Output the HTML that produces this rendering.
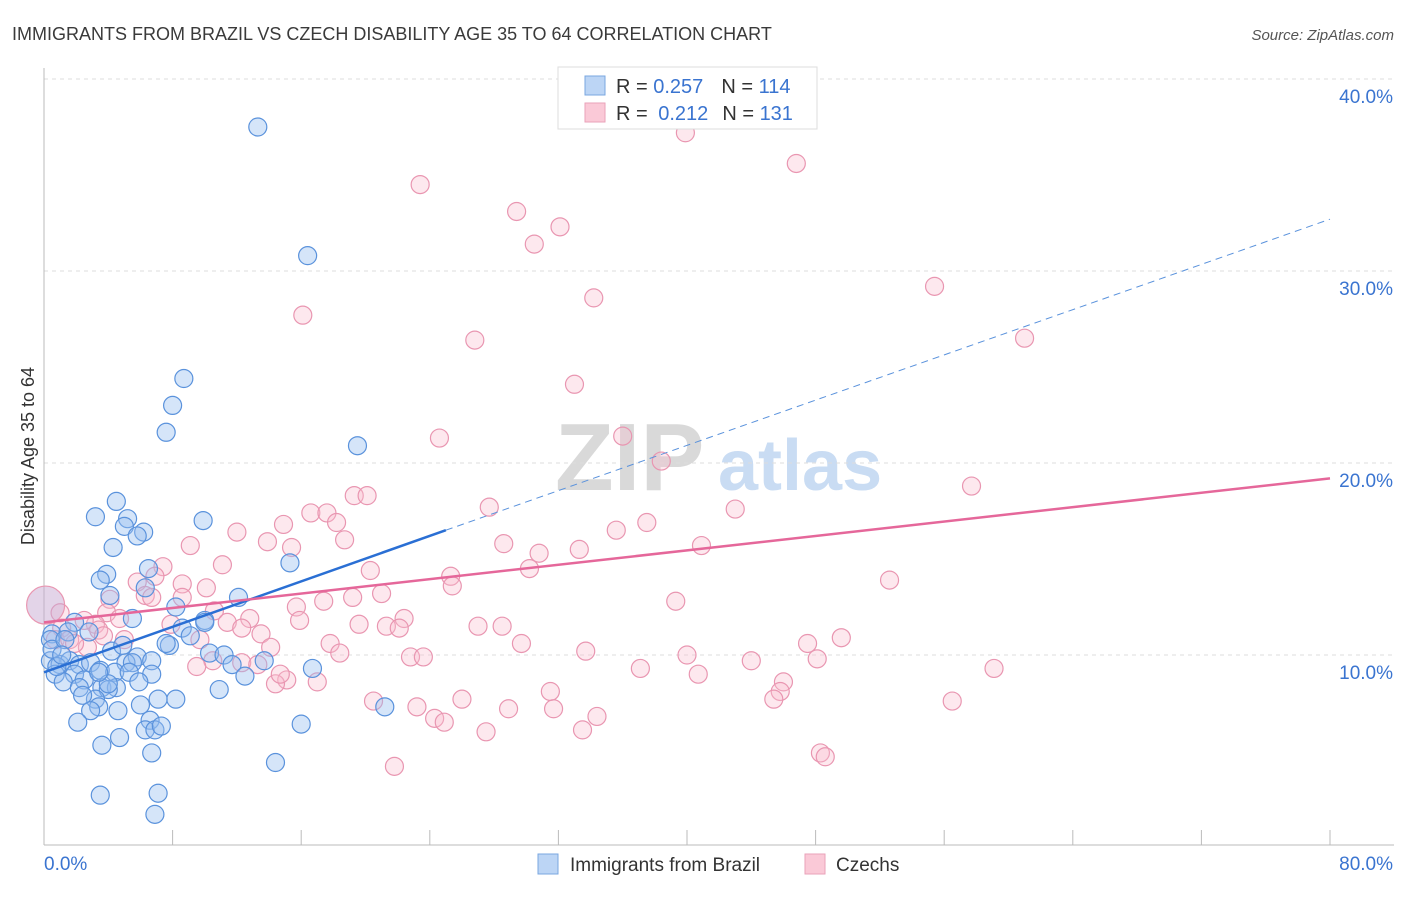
<!DOCTYPE html>
<html><head><meta charset="utf-8"><style>
body{margin:0;background:#fff;font-family:"Liberation Sans",sans-serif}
svg text{font-family:"Liberation Sans",sans-serif}
</style></head><body>
<svg id="c" width="1406" height="892" xmlns="http://www.w3.org/2000/svg">
<text x="12" y="40" font-size="18" fill="#3a3a3a">IMMIGRANTS FROM BRAZIL VS CZECH DISABILITY AGE 35 TO 64 CORRELATION CHART</text>
<text x="1394" y="40" font-size="15" fill="#555" font-style="italic" text-anchor="end">Source: ZipAtlas.com</text>
<g>
<text x="555" y="490" font-size="96" fill="#d9d9d9" font-family="Liberation Serif" font-weight="bold">ZIP</text>
<text x="718" y="490" font-size="72" fill="#c9dcf3" font-weight="bold">atlas</text>
</g>
<g id="grid"></g><g id="axes"></g><g id="pts"></g><g id="lines"></g>
<text transform="translate(34,456) rotate(-90)" font-size="18" fill="#333" text-anchor="middle">Disability Age 35 to 64</text>
<g>
<rect x="558" y="67" width="259" height="62" fill="#fff" stroke="#ddd"/>
<rect x="585" y="76" width="20" height="19" fill="#bcd5f5" stroke="#7aa7e0"/>
<rect x="585" y="103" width="20" height="19" fill="#fac9d7" stroke="#eaa2b9"/>
<text x="616" y="93" font-size="20" fill="#333">R = <tspan fill="#3a74d0">0.257</tspan><tspan dx="18">N = </tspan><tspan fill="#3a74d0">114</tspan></text>
<text x="616" y="120" font-size="20" fill="#333">R = <tspan dx="5" fill="#3a74d0">0.212</tspan><tspan dx="14">N = </tspan><tspan fill="#3a74d0">131</tspan></text>
</g>
<g>
<rect x="538" y="854" width="20" height="20" fill="#bcd5f5" stroke="#7aa7e0"/>
<text x="570" y="871" font-size="19" fill="#333">Immigrants from Brazil</text>
<rect x="805" y="854" width="20" height="20" fill="#fac9d7" stroke="#eaa2b9"/>
<text x="836" y="871" font-size="19" fill="#333">Czechs</text>
</g>
</svg>
<script>
const yTicks=[10,20,30,40];
const yTickLabels=["10.0%","20.0%","30.0%","40.0%"];
const xTicks=[8,16,24,32,40,48,56,64,72,80];
const blueX=[13.3,16.4,8.7,8.0,7.6,19.5,4.5,3.2,5.2,5.0,9.9,6.2,5.8,4.3,15.3,6.5,3.9,3.5,4.1,12.1,6.3,8.2,5.5,10.0,8.6,1.9,9.1,0.5,2.8,1.5,7.8,10.3,11.2,5.8,6.7,13.7,11.7,16.7,5.1,5.5,12.5,0.4,1.0,1.6,2.2,2.9,0.7,1.9,3.5,4.4,5.3,6.7,1.2,2.5,3.6,4.5,2.2,4.0,5.9,3.2,2.4,10.9,8.2,7.1,4.6,3.4,2.9,6.0,21.2,2.1,6.6,16.0,6.3,6.9,7.3,4.7,3.6,6.7,14.4,3.5,7.1,6.9,0.4,0.5,4.0,1.3,0.8,3.4,4.2,4.9,1.1,7.6,10.0];
const blueY=[37.5,30.8,24.4,23.0,21.6,20.9,18.0,17.2,17.1,16.7,17.0,16.4,16.2,15.6,14.8,14.5,14.2,13.9,13.1,13.0,13.5,12.5,11.9,11.8,11.4,11.7,11.0,11.1,11.2,11.2,10.5,10.1,10.0,9.9,9.7,9.7,9.5,9.3,9.6,9.6,8.9,9.7,9.5,9.7,9.5,9.6,9.0,9.0,9.2,9.1,9.1,9.0,8.6,8.7,8.3,8.3,8.3,8.2,8.6,7.7,7.9,8.2,7.7,7.7,7.1,7.3,7.1,7.4,7.3,6.5,6.6,6.4,6.1,6.1,6.3,5.7,5.3,4.9,4.4,2.7,2.8,1.7,10.8,10.3,8.5,10.8,9.4,9.1,10.2,10.5,10.0,10.6,11.7];
const pinkX=[42.2,39.9,46.8,23.4,29.4,32.1,30.5,34.2,55.4,16.1,61.0,26.8,33.0,36.0,24.6,38.4,19.3,20.1,57.7,27.7,43.0,16.6,17.6,18.2,14.9,37.5,12.0,35.6,18.7,13.9,28.6,40.9,33.3,9.1,15.4,30.8,11.1,20.3,30.2,7.4,6.9,25.3,52.6,5.8,8.6,25.4,10.1,6.3,6.7,8.6,21.0,19.2,17.4,39.3,4.1,15.7,10.6,3.9,12.8,22.4,4.7,11.4,15.9,19.6,21.3,27.0,28.5,22.1,7.9,12.3,3.2,2.5,3.4,13.5,1.1,3.7,5.0,9.7,0.7,1.6,49.6,47.5,17.8,29.7,14.1,2.7,33.7,18.4,22.8,23.6,40.0,48.1,44.0,10.5,12.3,13.3,9.5,37.1,59.1,40.7,46.0,15.1,17.0,14.4,45.8,31.5,20.5,26.0,23.2,45.4,56.5,28.9,31.7,34.4,24.3,24.9,27.5,33.5,48.3,48.6,21.8,1.0,1.9,14.7];
const pinkY=[38.2,37.2,35.6,34.5,33.1,32.3,31.4,28.6,29.2,27.7,26.5,26.4,24.1,21.4,21.3,20.1,18.3,18.3,18.8,17.7,17.6,17.4,17.4,16.9,16.8,16.9,16.4,16.5,16.0,15.9,15.8,15.7,15.5,15.7,15.6,15.3,14.7,14.4,14.5,14.6,14.1,14.1,13.9,13.8,13.7,13.6,13.5,13.1,13.0,13.0,13.2,13.0,12.8,12.8,12.9,12.5,12.3,12.2,11.9,11.9,11.9,11.7,11.8,11.6,11.5,11.5,11.5,11.4,11.6,11.4,11.6,11.8,11.3,11.1,11.4,11.0,10.8,10.8,10.8,10.8,10.9,10.6,10.6,10.6,10.4,10.4,10.2,10.1,9.9,9.9,10.0,9.8,9.7,9.7,9.6,9.5,9.4,9.3,9.3,9.0,8.6,8.7,8.6,8.5,8.1,8.1,7.6,7.7,7.3,7.7,7.6,7.2,7.2,6.8,6.7,6.5,6.0,6.1,4.9,4.7,4.2,12.2,10.6,9.0];
const bigPoint=[0.1,12.6];
const blueTrend=[[0,9.1],[25,16.5],[80,32.7]];
const pinkTrend=[[0,11.7],[80,19.2]];
const NS="http://www.w3.org/2000/svg";
const X=v=>44+v*16.075, Y=v=>847-v*19.2;
function mk(tag,attrs,parent){const e=document.createElementNS(NS,tag);for(const k in attrs)e.setAttribute(k,attrs[k]);document.getElementById(parent).appendChild(e);return e;}
yTicks.forEach((t,i)=>{
 const g=mk('line',{x1:44,x2:1394,y1:Y(t),y2:Y(t),stroke:'#ddd','stroke-dasharray':'4,4'},'grid');
 
 
 const l=mk('text',{x:1393,y:Y(t)+24,'font-size':19,fill:'#3a74d0','text-anchor':'end'},'grid');
 l.textContent=yTickLabels[i];
 
 
});
const ax=mk('line',{x1:44,x2:1394,y1:845,y2:845,stroke:'#bbb'},'axes');


const ay=mk('line',{x1:44,x2:44,y1:68,y2:845,stroke:'#bbb'},'axes');


xTicks.forEach(t=>{const e=mk('line',{x1:X(t),x2:X(t),y1:830,y2:845,stroke:'#bbb'},'axes');
 
 });
const xl0=mk('text',{x:44,y:870,'font-size':19,fill:'#3a74d0'},'axes');xl0.textContent='0.0%';


const xl1=mk('text',{x:1393,y:870,'font-size':19,fill:'#3a74d0','text-anchor':'end'},'axes');xl1.textContent='80.0%';


pinkX.forEach((v,i)=>{const c=mk('circle',{cx:X(v),cy:Y(pinkY[i]),r:9,fill:'rgba(248,188,206,0.35)',stroke:'#e996b1','stroke-width':1.2},'pts');
 
 });
blueX.forEach((v,i)=>{const c=mk('circle',{cx:X(v),cy:Y(blueY[i]),r:9,fill:'rgba(150,190,240,0.4)',stroke:'#5a92dc','stroke-width':1.2},'pts');
 
 });
const bp=mk('circle',{cx:X(bigPoint[0]),cy:Y(bigPoint[1]),r:19,fill:'rgba(200,170,210,0.5)',stroke:'#e996b1','stroke-width':1.2},'pts');


const bl=mk('line',{x1:X(blueTrend[0][0]),y1:Y(blueTrend[0][1]),x2:X(blueTrend[1][0]),y2:Y(blueTrend[1][1]),stroke:'#2a6fd4','stroke-width':2.5},'lines');


const bd=mk('line',{x1:X(blueTrend[1][0]),y1:Y(blueTrend[1][1]),x2:X(blueTrend[2][0]),y2:Y(blueTrend[2][1]),stroke:'#5a92dc','stroke-width':1,'stroke-dasharray':'7,5'},'lines');


const pl=mk('line',{x1:X(pinkTrend[0][0]),y1:Y(pinkTrend[0][1]),x2:X(pinkTrend[1][0]),y2:Y(pinkTrend[1][1]),stroke:'#e5679a','stroke-width':2.5},'lines');


</script>
</body></html>
